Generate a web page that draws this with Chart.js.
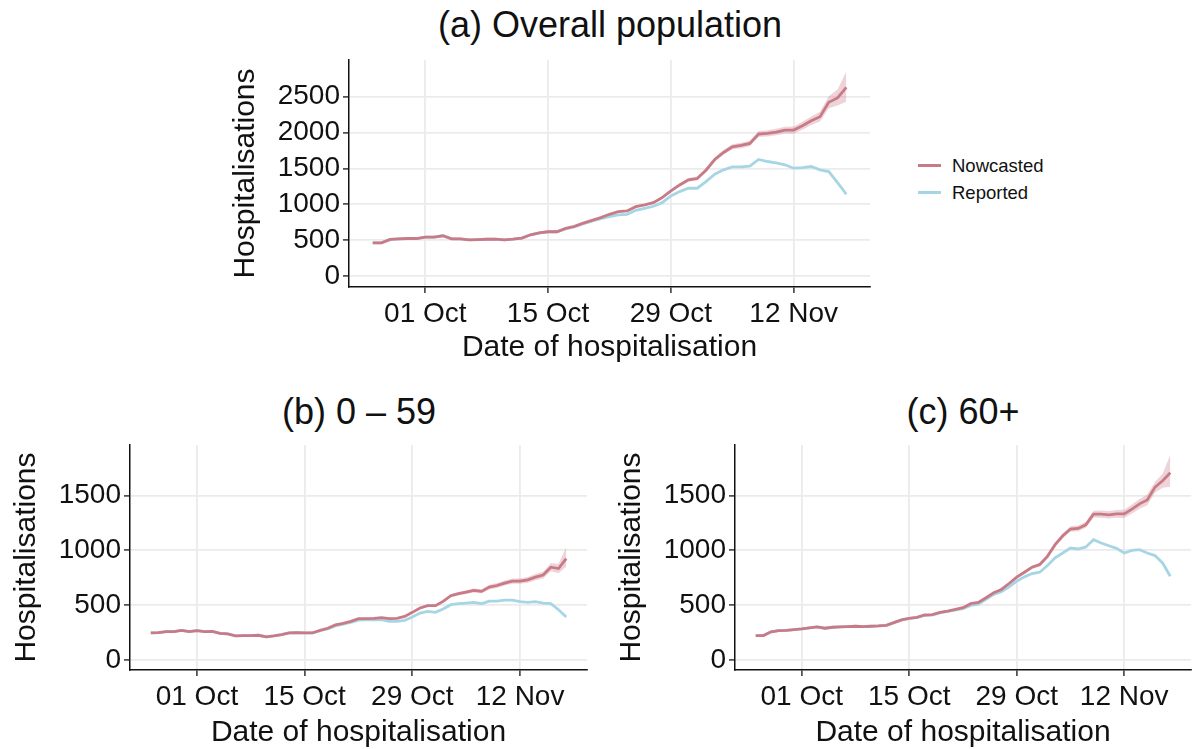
<!DOCTYPE html>
<html>
<head>
<meta charset="utf-8">
<script src="https://cdn.jsdelivr.net/npm/chart.js@4.4.0/dist/chart.umd.min.js"></script>
<style>
  body { margin: 0; background: #fff; width: 1196px; height: 749px; position: relative; overflow: hidden;
         font-family: "Liberation Sans", Arial, sans-serif; color: #111; }
  .box { position: absolute; }
  .title { position: absolute; font-size: 36px; line-height: 36px; transform: translateX(-50%); white-space: nowrap; }
  .legend { position: absolute; left: 918px; top: 152px; font-size: 18.5px; line-height: 27px; }
  .legend div { display: flex; align-items: center; }
  .legend span { display: inline-block; width: 23px; height: 3px; margin-right: 11px; }
</style>
</head>
<body>
<div class="title" style="left:610px; top:7px;">(a) Overall population</div>
<div class="title" style="left:359px; top:394px;">(b) 0 – 59</div>
<div class="title" style="left:963px; top:394px;">(c) 60+</div>

<div class="legend">
  <div><span style="background:#C97A87"></span>Nowcasted</div>
  <div><span style="background:#A6D6E4"></span>Reported</div>
</div>

<div class="box" style="left:0; top:0; width:880px; height:372px;"><canvas id="chartA"></canvas></div>
<div class="box" style="left:0; top:376px; width:600px; height:380px;"><canvas id="chartB"></canvas></div>
<div class="box" style="left:600px; top:376px; width:596px; height:380px;"><canvas id="chartC"></canvas></div>

<script>
// days from 25 Sep to 18 Nov
const dates = [];
for (let i = 0; i < 55; i++) {
  const d = new Date(2020, 8, 25 + i);
  dates.push(d.getFullYear() + '-' + String(d.getMonth() + 1).padStart(2, '0') + '-' + String(d.getDate()).padStart(2, '0'));
}
const tickDates = ['2020-10-01', '2020-10-15', '2020-10-29', '2020-11-12'];
const tickLabels = ['01 Oct', '15 Oct', '29 Oct', '12 Nov'];
const bandStart = '2020-10-20';

// (a) overall
const nowcastAll = [465, 465, 512, 520, 525, 525, 545, 545, 563, 520, 520, 505, 510, 515, 515, 505, 515, 530, 577, 605,
  619, 619, 666, 694, 740, 778, 815, 862, 898, 908, 968, 992, 1024, 1094, 1187, 1271, 1341, 1360, 1476, 1625,
  1723, 1802, 1820, 1848, 1979, 1988, 2007, 2035, 2035, 2095, 2165, 2221, 2421, 2482, 2630];
const reportedAll = [465, 465, 512, 520, 525, 525, 545, 545, 563, 520, 520, 505, 510, 515, 515, 505, 515, 530, 577, 605,
  619, 619, 660, 686, 730, 765, 800, 830, 855, 862, 918, 946, 974, 1024, 1118, 1178, 1225, 1225, 1318, 1420,
  1481, 1523, 1523, 1532, 1625, 1597, 1579, 1551, 1504, 1513, 1527, 1481, 1457, 1304, 1141];
const lowerAll = [770, 806, 851, 886, 895, 953, 976, 1006, 1074, 1165, 1247, 1315, 1332, 1446, 1593, 1690, 1767, 1783, 1810, 1938,
  1945, 1962, 1988, 1985, 2040, 2105, 2155, 2340, 2375, 2430];
const upperAll = [786, 824, 873, 910, 921, 983, 1008, 1042, 1114, 1209, 1295, 1367, 1388, 1506, 1657, 1756, 1837, 1857, 1886, 2020,
  2031, 2052, 2082, 2085, 2150, 2225, 2290, 2505, 2600, 2850];

// (b) 0 - 59
const nowcastYoung = [245, 248, 257, 257, 269, 257, 266, 257, 260, 242, 236, 218, 221, 221, 224, 209, 218, 230, 245, 248,
  245, 245, 269, 288, 318, 333, 351, 375, 375, 378, 384, 375, 378, 396, 433, 473, 494, 494, 533, 585,
  603, 618, 633, 624, 664, 678, 700, 718, 718, 730, 754, 773, 845, 833, 924];
const reportedYoung = [245, 248, 257, 257, 269, 257, 266, 257, 260, 242, 236, 218, 221, 221, 224, 209, 218, 230, 245, 248,
  245, 245, 265, 283, 310, 325, 342, 362, 364, 364, 367, 351, 351, 360, 391, 427, 442, 433, 463, 503,
  512, 518, 524, 512, 536, 536, 545, 545, 530, 524, 530, 518, 512, 457, 391];
const lowerYoung = [328, 345, 369, 369, 371, 377, 367, 370, 387, 423, 462, 482, 481, 519, 570, 587, 601, 615, 605, 643,
  656, 677, 694, 693, 704, 726, 743, 808, 790, 850];
const upperYoung = [338, 357, 381, 381, 385, 391, 383, 386, 405, 443, 484, 506, 507, 547, 600, 619, 635, 651, 643, 685,
  700, 723, 742, 743, 756, 782, 803, 882, 876, 1030];

// (c) 60+
const nowcastOld = [221, 221, 255, 266, 269, 275, 282, 291, 300, 288, 297, 300, 303, 306, 303, 306, 309, 315, 339, 364,
  378, 387, 409, 412, 433, 445, 460, 476, 512, 524, 566, 612, 642, 696, 754, 799, 845, 869, 944, 1051,
  1132, 1193, 1199, 1232, 1329, 1329, 1323, 1332, 1332, 1375, 1423, 1459, 1574, 1634, 1707];
const reportedOld = [221, 221, 255, 266, 269, 275, 282, 291, 300, 288, 297, 300, 303, 306, 303, 306, 309, 315, 339, 364,
  378, 387, 405, 408, 428, 442, 454, 467, 497, 508, 551, 597, 621, 666, 717, 757, 787, 799, 860, 930,
  975, 1020, 1011, 1030, 1096, 1066, 1041, 1017, 975, 999, 1005, 975, 951, 884, 763];
const lowerOld = [440, 454, 470, 505, 516, 557, 602, 631, 684, 740, 784, 829, 852, 925, 1030, 1109, 1168, 1172, 1204, 1298,
  1296, 1289, 1296, 1294, 1334, 1378, 1410, 1525, 1570, 1580];
const upperOld = [450, 466, 482, 519, 532, 575, 622, 653, 708, 768, 814, 861, 886, 963, 1072, 1155, 1218, 1226, 1260, 1360,
  1362, 1357, 1368, 1370, 1416, 1468, 1508, 1623, 1698, 1868];

const yTicksAll = [0, 500, 1000, 1500, 2000, 2500];
const yTicksAge = [0, 500, 1000, 1500];

const red = '#C97A87';
const blue = '#A6D6E4';
const bandFill = 'rgba(201, 122, 135, 0.32)';
const ink = '#111';

const tickPos = tickDates.map(d => dates.indexOf(d));
const bandFrom = dates.indexOf(bandStart);
const pts = vals => vals.map((v, i) => ({ x: i, y: v }));
const tail = vals => vals.map((v, j) => ({ x: bandFrom + j, y: v }));

function drawPanel(id, nowcast, reported, lower, upper, yMin, yMax, yTicks, padding) {
  new Chart(document.getElementById(id), {
    type: 'line',
    data: {
      datasets: [
        { label: 'Nowcasted', data: pts(nowcast), borderColor: red, borderWidth: 2.8, pointRadius: 0, fill: false },
        { label: 'Reported', data: pts(reported), borderColor: blue, borderWidth: 2.8, pointRadius: 0, fill: false },
        { label: 'upper', data: tail(upper), borderColor: 'transparent', borderWidth: 0, pointRadius: 0, fill: false },
        { label: 'lower', data: tail(lower), borderColor: 'transparent', borderWidth: 0, pointRadius: 0,
          fill: '-1', backgroundColor: bandFill }
      ]
    },
    options: {
      animation: false,
      responsive: true,
      maintainAspectRatio: false,
      layout: { padding: padding },
      plugins: { legend: { display: false }, tooltip: { enabled: false } },
      scales: {
        x: {
          type: 'linear',
          min: -2.7,
          max: 56.7,
          afterBuildTicks: s => { s.ticks = tickPos.map(v => ({ value: v })); },
          afterFit: s => { s.height = padding.xh; },
          ticks: {
            autoSkip: false, maxRotation: 0, padding: 4, color: ink,
            font: { family: 'Liberation Sans', size: 28 },
            callback: (v, i) => tickLabels[i]
          },
          grid: { color: '#ebebeb', lineWidth: 1.8, tickColor: '#333', tickLength: 6, tickWidth: 1.5 },
          border: { color: ink, width: 1.5 },
          title: { display: true, text: 'Date of hospitalisation', color: ink,
                   font: { family: 'Liberation Sans', size: 30 }, padding: { top: 0, bottom: 4 } }
        },
        y: {
          min: yMin,
          max: yMax,
          afterBuildTicks: s => { s.ticks = yTicks.map(v => ({ value: v })); },
          afterFit: s => { s.width = 125; },
          ticks: { padding: 3, color: ink, font: { family: 'Liberation Sans', size: 28 }, callback: v => String(v) },
          grid: { color: '#ebebeb', lineWidth: 1.8, tickColor: '#333', tickLength: 6, tickWidth: 1.5 },
          border: { color: ink, width: 1.5 },
          title: { display: true, text: 'Hospitalisations', color: ink,
                   font: { family: 'Liberation Sans', size: 30 }, padding: { top: 4, bottom: 4 } }
        }
      }
    }
  });
}

drawPanel('chartA', nowcastAll, reportedAll, lowerAll, upperAll, -150, 3010, yTicksAll,
  { left: 224, right: 10, top: 60, bottom: 2, xh: 83 });
drawPanel('chartB', nowcastYoung, reportedYoung, lowerYoung, upperYoung, -93, 1960, yTicksAge,
  { left: 5, right: 13, top: 69, bottom: 1, xh: 85 });
drawPanel('chartC', nowcastOld, reportedOld, lowerOld, upperOld, -93, 1960, yTicksAge,
  { left: 10, right: 5, top: 69, bottom: 1, xh: 85 });
</script>
</body>
</html>
